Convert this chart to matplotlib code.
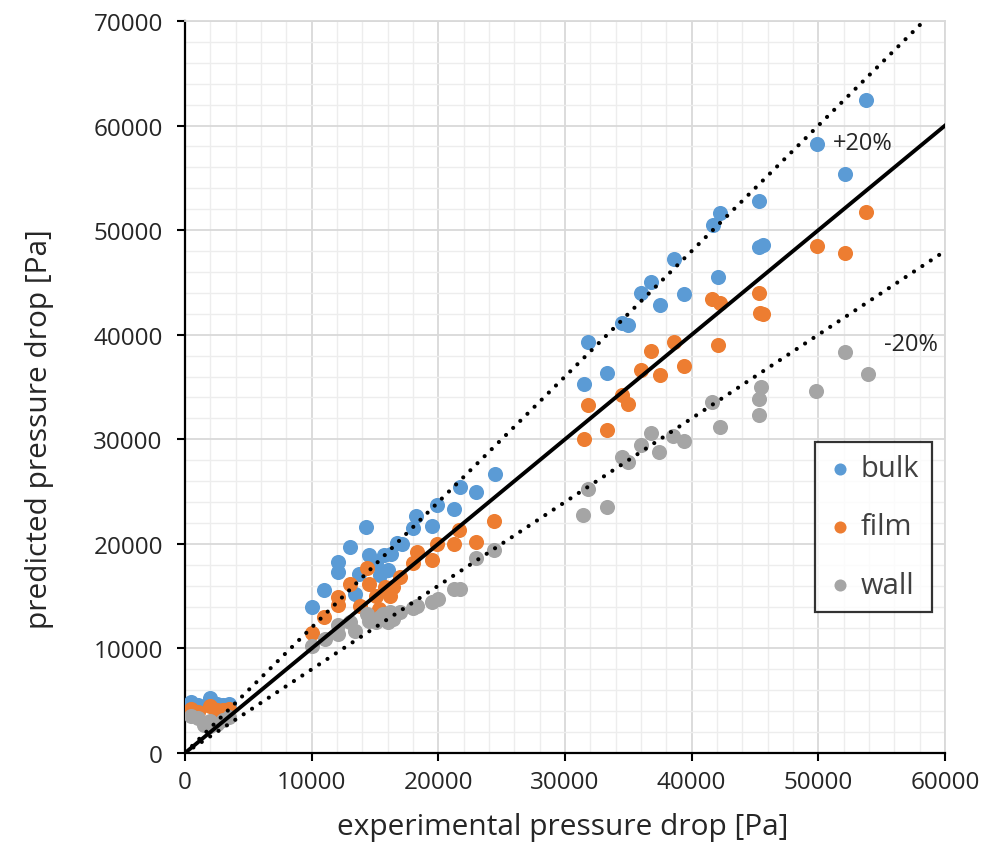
import matplotlib
matplotlib.use("Agg")
import matplotlib.pyplot as plt
from matplotlib.ticker import MultipleLocator
import numpy as np

plt.rcParams['font.family'] = ['Open Sans', 'DejaVu Sans']

# ---- data (Pa) ----
bulk_x = [500, 1000, 2000, 2500, 3000, 3500,
          10000, 11000, 12100, 12100, 13000, 13400, 13700, 14300, 14500, 15100, 15400,
          15700, 16300, 16000, 16700, 17100, 18000, 18200, 19500, 19900, 21200, 21700,
          23000, 24500,
          31800, 31500, 33300, 34500, 35000, 36000, 36800, 37500, 38600, 39400, 41700,
          42200, 42100, 45300, 45300, 45600, 49900, 52100, 53800]
bulk_y = [4900, 4600, 5300, 4700, 4600, 4700,
          14000, 15600, 18300, 17300, 19700, 15200, 17100, 21600, 18900, 18200, 17000,
          18900, 19000, 17500, 20100, 20000, 21500, 22700, 21700, 23700, 23300, 25400,
          25000, 26700,
          39300, 35300, 36300, 41100, 40900, 44000, 45000, 42800, 47200, 43900, 50500,
          51600, 45500, 52800, 48400, 48600, 58200, 55400, 62400]

film_x = [500, 1000, 2000, 2500, 3000, 3500,
          10000, 11000, 12100, 12100, 13000, 13800, 14400, 14500, 15100, 15300, 15800,
          16200, 16450, 17000, 18000, 18300, 19500, 19900, 21200, 21650, 23000, 24400,
          31500, 31800, 33300, 34500, 35000, 36000, 36800, 37500, 38600, 39400, 41600,
          42200, 42100, 45300, 45400, 45600, 49900, 52100, 53800]
film_y = [4200, 3900, 4500, 4100, 4100, 4200,
          11500, 13000, 14950, 14150, 16200, 14100, 17700, 16200, 15050, 13800, 15850,
          15050, 15850, 16800, 18200, 19200, 18500, 20000, 20000, 21350, 20200, 22200,
          30000, 33300, 30900, 34200, 33400, 36600, 38400, 36100, 39300, 37000, 43400,
          43000, 39000, 44000, 42100, 42000, 48500, 47800, 51700]

wall_x = [500, 1000, 1500, 2000, 2000, 2500, 3000, 3500,
          10000, 11050, 12100, 12100, 13000, 13400, 14350, 14500, 15100, 15400, 15650,
          16000, 16200, 16450, 17000, 18000, 18300, 19500, 20000, 21200, 21700, 23000,
          24400,
          31450, 31850, 33300, 34500, 35000, 36000, 36800, 37450, 38550, 39400, 41600,
          42200, 45300, 45300, 45500, 49800, 52100, 53900]
wall_y = [3500, 3300, 2700, 3100, 2600, 2800, 3200, 3400,
          10250, 10900, 12200, 11400, 12500, 11700, 13300, 12650, 12500, 13000, 13300,
          12500, 13450, 12800, 13450, 13900, 14100, 14400, 14700, 15700, 15700, 18600,
          19400,
          22800, 25200, 23500, 28300, 27800, 29450, 30600, 28750, 30300, 29800, 33600,
          31200, 32300, 33900, 35000, 34650, 38300, 36200]

series_names = ["bulk", "film", "wall"]
series_colors = ["#5B9BD5", "#ED7D31", "#A5A5A5"]

ref_x = [0, 60000]
x_max = 60000
y_max = 70000

# ---- figure ----
fig = plt.figure(figsize=(9.83, 8.54), dpi=100)
ax = fig.add_axes([185/983, 1-754/854, (945-185)/983, (754-22)/854])

ax.set_xlim(0, x_max)
ax.set_ylim(0, y_max)
ax.xaxis.set_major_locator(MultipleLocator(10000))
ax.yaxis.set_major_locator(MultipleLocator(10000))
ax.xaxis.set_minor_locator(MultipleLocator(2000))
ax.yaxis.set_minor_locator(MultipleLocator(2000))
ax.grid(which='major', color='#D9D9D9', linewidth=1.3, zorder=0)
ax.grid(which='minor', color='#EDEDED', linewidth=1.0, zorder=0)
ax.set_axisbelow(True)

for s in ['top', 'right']:
    ax.spines[s].set_color('#D9D9D9')
    ax.spines[s].set_linewidth(1.3)
for s in ['left', 'bottom']:
    ax.spines[s].set_color('black')
    ax.spines[s].set_linewidth(1.6)
ax.tick_params(which='major', direction='out', length=6, width=1.5, labelsize=17.5,
               colors='black', labelcolor='#262626')
ax.tick_params(axis='y', pad=10)
ax.tick_params(axis='x', pad=6)
ax.tick_params(which='minor', length=0)

# scatter series
handles = []
for xs, ys, name, col in zip([bulk_x, film_x, wall_x], [bulk_y, film_y, wall_y],
                             series_names, series_colors):
    h = ax.scatter(xs, ys, s=118, color=col, label=name, zorder=3, linewidths=0)
    handles.append(h)

# reference lines
rx = np.array(ref_x, dtype=float)
ax.plot(rx, rx, color='black', linewidth=2.8, zorder=4)
dot_style = (0, (0.01, 2.4))
ax.plot(rx, 1.2 * rx, color='black', linewidth=3.0, linestyle=dot_style,
        dash_capstyle='round', zorder=4)
ax.plot(rx, 0.8 * rx, color='black', linewidth=3.0, linestyle=dot_style,
        dash_capstyle='round', zorder=4)

ax.text(53500, 58300, "+20%", fontsize=17, color='#262626', ha='center', va='center', zorder=5)
ax.text(57300, 39100, "-20%", fontsize=17, color='#262626', ha='center', va='center', zorder=5)

ax.set_xlabel("experimental pressure drop [Pa]", fontsize=21.5, color='#262626', va='center')
ax.set_ylabel("predicted pressure drop [Pa]", fontsize=21.5, color='#262626', va='center')
ax.xaxis.set_label_coords((563-185)/760, (754-828)/732)
ax.yaxis.set_label_coords((40-185)/760, (754-429)/732)

leg = ax.legend(handles=handles, loc='upper left', bbox_to_anchor=((815-185)/760, (754-443)/732),
                frameon=True, fancybox=False, edgecolor='black', fontsize=21,
                markerscale=0.8, handletextpad=0.25, labelspacing=1.0, borderpad=0.42,
                handlelength=0.9, borderaxespad=0)
leg.get_frame().set_linewidth(1.6)
for t in leg.get_texts():
    t.set_color('#404040')
leg.set_zorder(6)

fig.savefig("out.png", dpi=100, facecolor='white')
